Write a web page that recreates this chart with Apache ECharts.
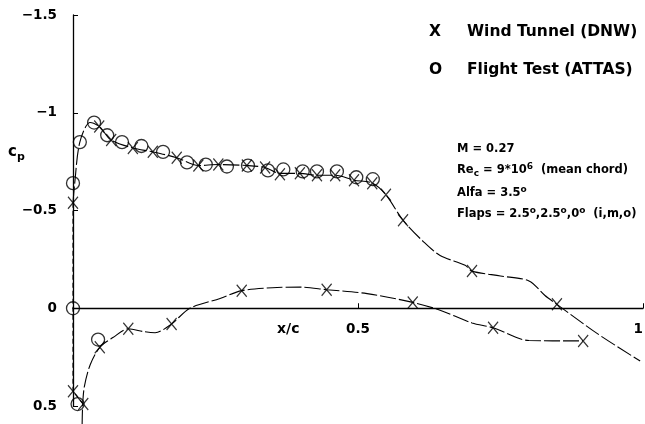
<!DOCTYPE html>
<html>
<head>
<meta charset="utf-8">
<script src="https://cdn.jsdelivr.net/npm/echarts@6/dist/echarts.min.js"></script>
<style>
html,body{margin:0;padding:0;background:#fff;}
#c{width:645px;height:424px;}
</style>
</head>
<body>
<div id="c"></div>
<script>
// ---- data (x/c, cp) ----
const wtUpperCurve = [
  [0,-0.54],[0.003,-0.64],[0.012,-0.85],[0.03,-0.95],[0.046,-0.93],[0.067,-0.86],
  [0.105,-0.82],[0.14,-0.80],[0.182,-0.77],[0.22,-0.73],[0.255,-0.735],[0.305,-0.73],
  [0.337,-0.72],[0.363,-0.69],[0.398,-0.69],[0.428,-0.68],[0.46,-0.68],[0.493,-0.655],
  [0.525,-0.64],[0.549,-0.58],[0.579,-0.45],[0.615,-0.34],[0.644,-0.27],[0.688,-0.22],
  [0.70,-0.19],[0.75,-0.165],[0.80,-0.14],[0.828,-0.065],[0.849,-0.02],[0.92,0.13],[0.995,0.27]
];
const wtLeadingEdge = [[0,-0.54],[0,0.425],[0.018,0.49]];
const wtLowerCurve = [
  [0.016,0.60],[0.017,0.49],[0.02,0.40],[0.03,0.29],[0.047,0.20],[0.07,0.15],
  [0.097,0.105],[0.125,0.12],[0.144,0.125],[0.173,0.08],[0.205,0.0],[0.258,-0.05],
  [0.296,-0.09],[0.35,-0.105],[0.398,-0.108],[0.445,-0.095],[0.516,-0.075],
  [0.596,-0.03],[0.644,0.01],[0.70,0.075],[0.737,0.10],[0.80,0.165],[0.88,0.167],[0.895,0.167]
];
const wtMarkers = [
  [0,-0.54],[0.046,-0.93],[0.067,-0.86],[0.105,-0.82],[0.14,-0.80],[0.182,-0.77],
  [0.22,-0.73],[0.255,-0.735],[0.305,-0.73],[0.337,-0.72],[0.363,-0.685],[0.398,-0.69],
  [0.428,-0.68],[0.46,-0.68],[0.493,-0.655],[0.525,-0.64],[0.549,-0.58],[0.579,-0.45],
  [0.70,-0.19],[0.849,-0.02],
  [0,0.425],[0.018,0.49],[0.047,0.20],[0.097,0.105],[0.173,0.08],[0.296,-0.09],
  [0.445,-0.095],[0.596,-0.03],[0.737,0.10],[0.895,0.167]
];
const ftMarkers = [
  [0,-0.64],[0.012,-0.85],[0.037,-0.95],[0.06,-0.885],[0.086,-0.85],[0.12,-0.83],
  [0.158,-0.80],[0.2,-0.746],[0.233,-0.735],[0.27,-0.725],[0.307,-0.73],[0.342,-0.705],
  [0.369,-0.71],[0.403,-0.70],[0.428,-0.70],[0.463,-0.70],[0.497,-0.67],[0.526,-0.66],
  [0,0.0],[0.044,0.16],[0.008,0.49]
];
const xTickValues = [0.5, 1];
const xTickLabels = ['0.5', '1'];
const yTickValues = [-1.5, -1, -0.5, 0, 0.5];
const yTickLabels = ['\u22121.5', '\u22121', '\u22120.5', '0', '0.5'];
const legendMarks = ['X', 'O'];
const legendNames = ['Wind Tunnel (DNW)', 'Flight Test (ATTAS)'];

// ---- chart ----
const FONT = '"DejaVu Sans", "Liberation Sans", Arial, sans-serif';
const GRID_TOP = 15, GRID_BOTTOM = 18, H = 424;
const Y_MIN = -1.5, Y_MAX = 0.5;
const gridH = H - GRID_TOP - GRID_BOTTOM;
const xAxisOffset = -gridH * (Y_MAX - 0) / (Y_MAX - Y_MIN);

const chart = echarts.init(document.getElementById('c'), null, {renderer: 'canvas'});
const lineStyle = {color: '#000', width: 1.1, type: [16, 3]};
const X_PATH = 'path://M0,0L10,12M10,0L0,12';

function lab(list, vals, v) {
  for (let i = 0; i < vals.length; i++) if (Math.abs(vals[i] - v) < 1e-9) return list[i];
  return '';
}

const option = {
  animation: false,
  backgroundColor: '#fff',
  grid: {left: 73, right: 2, top: GRID_TOP, bottom: GRID_BOTTOM, containLabel: false, outerBoundsMode: 'none'},
  xAxis: {
    type: 'value', min: 0, max: 1, interval: 0.5, position: 'bottom', offset: xAxisOffset,
    axisLine: {onZero: false, lineStyle: {color: '#000', width: 1.3}},
    axisTick: {inside: true, length: 5, lineStyle: {color: '#000'}},
    splitLine: {show: false},
    axisLabel: {
      margin: 14, color: '#000', fontFamily: FONT, fontWeight: 'bold', fontSize: 13.5,
      alignMaxLabel: 'right',
      formatter: v => lab(xTickLabels, xTickValues, v)
    }
  },
  yAxis: {
    type: 'value', inverse: true, min: Y_MIN, max: Y_MAX, interval: 0.5,
    axisLine: {onZero: false, lineStyle: {color: '#000', width: 1.3}},
    axisTick: {inside: true, length: 5, lineStyle: {color: '#000'}},
    splitLine: {show: false},
    axisLabel: {
      margin: 16, color: '#000', fontFamily: FONT, fontWeight: 'bold', fontSize: 13.5,
      formatter: v => lab(yTickLabels, yTickValues, v)
    }
  },
  series: [
    {type: 'line', data: wtUpperCurve, showSymbol: false, symbol: 'none', smooth: 0.3, clip: false, lineStyle: lineStyle, z: 2},
    {type: 'line', data: wtLeadingEdge, showSymbol: false, symbol: 'none', clip: false, lineStyle: {color: '#000', width: 1.1, type: [5, 3]}, z: 2},
    {type: 'line', data: wtLowerCurve, showSymbol: false, symbol: 'none', smooth: 0.3, clip: false, lineStyle: lineStyle, z: 2},
    {type: 'scatter', data: wtMarkers, symbol: X_PATH, symbolSize: [10, 12], clip: false,
     itemStyle: {color: 'transparent', borderColor: '#000', borderWidth: 1.3}, z: 3},
    {type: 'scatter', data: ftMarkers, symbol: 'circle', symbolSize: 13, clip: false,
     itemStyle: {color: 'transparent', borderColor: '#000', borderWidth: 1.3}, z: 4}
  ],
  graphic: [
    {type: 'text', left: 277, top: 322, style: {text: 'x/c', font: 'bold 14px ' + FONT, fill: '#000'}},
    {type: 'text', left: 8, top: 145, style: {
      text: '{c|c}{p|p}', fill: '#000',
      rich: {c: {font: 'bold 15px ' + FONT, fill: '#000'}, p: {font: 'bold 11px ' + FONT, fill: '#000', padding: [9, 0, 0, 0]}}
    }},
    {type: 'text', left: 429, top: 24, style: {text: legendMarks[0], font: 'bold 15.5px ' + FONT, fill: '#000'}},
    {type: 'text', left: 467, top: 24, style: {text: legendNames[0], font: 'bold 15.5px ' + FONT, fill: '#000'}},
    {type: 'text', left: 429, top: 62, style: {text: legendMarks[1], font: 'bold 15.5px ' + FONT, fill: '#000'}},
    {type: 'text', left: 467, top: 62, style: {text: legendNames[1], font: 'bold 15.5px ' + FONT, fill: '#000'}},
    {type: 'text', left: 457, top: 143, style: {text: 'M = 0.27', font: 'bold 11.5px ' + FONT, fill: '#000'}},
    {type: 'text', left: 457, top: 162, style: {
      text: 'Re{s|c} = 9*10{u|6}  (mean chord)', fill: '#000', font: 'bold 11.5px ' + FONT,
      rich: {s: {font: 'bold 9px ' + FONT, fill: '#000', padding: [8, 0, 0, 0]}, u: {font: 'bold 9px ' + FONT, fill: '#000', padding: [0, 0, 7, 0]}}
    }},
    {type: 'text', left: 457, top: 185, style: {
      text: 'Alfa = 3.5{u|o}', fill: '#000', font: 'bold 11.5px ' + FONT,
      rich: {u: {font: 'bold 9px ' + FONT, fill: '#000', padding: [0, 0, 7, 0]}}
    }},
    {type: 'text', left: 457, top: 206, style: {
      text: 'Flaps = 2.5{u|o},2.5{u|o},0{u|o}  (i,m,o)', fill: '#000', font: 'bold 11.5px ' + FONT,
      rich: {u: {font: 'bold 9px ' + FONT, fill: '#000', padding: [0, 0, 7, 0]}}
    }}
  ]
};
chart.setOption(option);
</script>
</body>
</html>
